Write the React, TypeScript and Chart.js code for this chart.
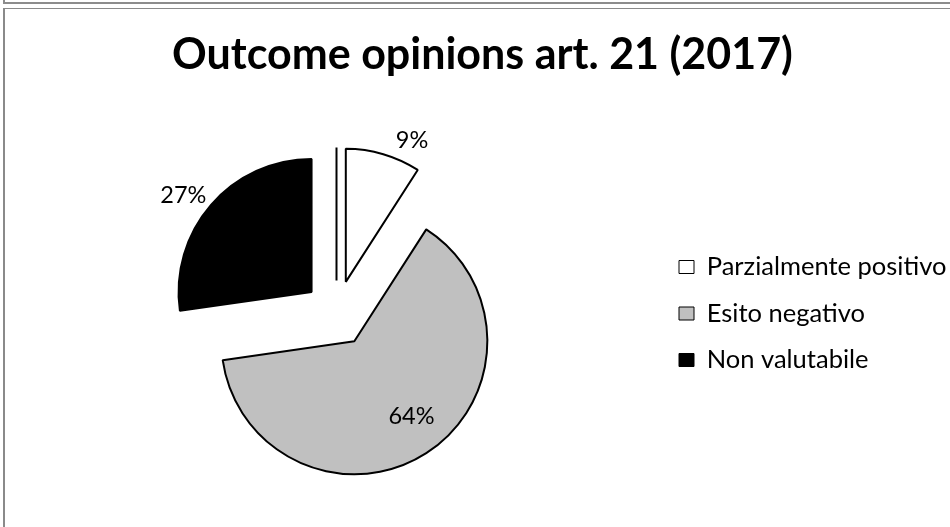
import React, { useEffect, useRef } from "react";
import { Chart, registerables } from "chart.js";

Chart.register(...registerables);

// ---- data ----
const TITLE = "Outcome opinions art. 21 (2017)";
const CATEGORIES = ["Positivo", "Parzialmente positivo", "Esito negativo", "Non valutabile"];
const COUNTS = [0, 1, 7, 3];
const SLICE_COLORS = ["#ffffff", "#ffffff", "#c0c0c0", "#000000"];

// ---- styling ----
const FONT = "Lato, 'Open Sans', sans-serif";
const TITLE_SIZE = 43;
const LABEL_SIZE = 23.5;
const LEGEND_SIZE = 25.5;
const RADIUS = 133;
const EXPLODE = 33;
const LABEL_PLACE = [
  { r: 0, shift: 0 },
  { r: 1.18, shift: 8.6 },
  { r: 0.707, shift: -4.7 },
  { r: 1.21, shift: -3.7 },
];
const CANVAS_W = 957;
const CANVAS_H = 545;
const LEGEND_PAD = 21;
const BOX_W = 15;
const BOX_H = 13;
const PLOT_LEFT = 10;
const PLOT_RIGHT = 653;
const LEGEND_MAX = 292;

const explodePlugin = {
  id: "explodeAndLabels",
  afterDatasetUpdate(chart: any, args: any) {
    const meta = chart.getDatasetMeta(args.index);
    for (const arc of meta.data as any[]) {
      const mid = (arc.startAngle + arc.endAngle) / 2;
      arc.x += Math.cos(mid) * EXPLODE;
      arc.y += Math.sin(mid) * EXPLODE;
    }
  },
  afterDatasetsDraw(chart: any) {
    const ctx = chart.ctx as CanvasRenderingContext2D;
    const meta = chart.getDatasetMeta(0);
    const values = chart.data.datasets[0].data as number[];
    const total = values.reduce((a, b) => a + b, 0);
    meta.data.forEach((arc: any, i: number) => {
      const v = values[i];
      if (v === 0) {
        ctx.save();
        ctx.strokeStyle = "#000";
        ctx.lineWidth = 2;
        ctx.beginPath();
        ctx.moveTo(arc.x, arc.y);
        ctx.lineTo(
          arc.x + Math.cos(arc.startAngle) * arc.outerRadius,
          arc.y + Math.sin(arc.startAngle) * arc.outerRadius
        );
        ctx.stroke();
        ctx.restore();
        return;
      }
      const place = LABEL_PLACE[i];
      const ang = (arc.startAngle + arc.endAngle) / 2 + (place.shift * Math.PI) / 180;
      const r = arc.outerRadius * place.r;
      const lx = arc.x + Math.cos(ang) * r;
      const ly = arc.y + Math.sin(ang) * r;
      ctx.save();
      ctx.font = `${LABEL_SIZE}px ${FONT}`;
      ctx.fillStyle = "#000";
      ctx.textAlign = "center";
      ctx.textBaseline = "alphabetic";
      ctx.fillText(Math.round((v / total) * 100) + "%", lx, ly + 0.358 * LABEL_SIZE);
      ctx.restore();
    });
  },
};

export default function App() {
  const ref = useRef<HTMLCanvasElement>(null);

  useEffect(() => {
    if (!ref.current) return;
    const m = document.createElement("canvas").getContext("2d")!;
    m.font = `${LEGEND_SIZE}px ${FONT}`;
    const maxText = Math.max(
      ...CATEGORIES.filter((_, i) => COUNTS[i] !== 0).map((t) => m.measureText(t).width)
    );
    const natural = LEGEND_PAD + BOX_W + LEGEND_SIZE / 2 + maxText + 10;
    const legendW = Math.min(natural, LEGEND_MAX);
    const padRight = CANVAS_W - PLOT_RIGHT - legendW;

    const baseGen =
      ((Chart as any).overrides?.pie?.plugins?.legend?.labels?.generateLabels) ||
      ((Chart as any).overrides?.doughnut?.plugins?.legend?.labels?.generateLabels);

    const chart = new Chart(ref.current, {
      type: "pie",
      data: {
        labels: CATEGORIES,
        datasets: [
          {
            data: COUNTS,
            backgroundColor: SLICE_COLORS,
            borderColor: "#000000",
            borderWidth: 2,
          },
        ],
      },
      options: {
        responsive: false,
        animation: false,
        events: [],
        radius: RADIUS,
        layout: { padding: { left: PLOT_LEFT, right: padRight, top: 0, bottom: 7.9 } },
        plugins: {
          tooltip: { enabled: false },
          title: {
            display: true,
            text: TITLE,
            color: "#000",
            font: { family: FONT, size: TITLE_SIZE, weight: "bold" },
            padding: { top: 20.3, bottom: 0 },
          },
          legend: {
            position: "right",
            fullSize: false,
            maxWidth: LEGEND_MAX,
            labels: {
              color: "#000",
              font: { family: FONT, size: LEGEND_SIZE },
              boxWidth: BOX_W,
              boxHeight: BOX_H,
              padding: LEGEND_PAD,
              generateLabels: (c: any) =>
                baseGen(c)
                  .filter((it: any) => COUNTS[it.index] !== 0)
                  .map((it: any) => ({ ...it, lineWidth: 1, strokeStyle: "#000" })),
            },
          },
        },
      } as any,
      plugins: [explodePlugin as any],
    });
    return () => chart.destroy();
  }, []);

  return (
    <div
      style={{
        position: "fixed",
        left: 0,
        top: 0,
        width: 950,
        height: 527,
        overflow: "hidden",
        background: "#fff",
      }}
    >
      <div
        style={{
          position: "absolute",
          left: 3,
          top: -20,
          width: 960,
          height: 22,
          borderLeft: "2px solid #8c8c8c",
          borderBottom: "2px solid #8c8c8c",
        }}
      />
      <div
        style={{
          position: "absolute",
          left: 3,
          top: 8,
          width: CANVAS_W,
          height: CANVAS_H,
          border: "1px solid #8a8a8a",
          borderLeftWidth: 2,
        }}
      >
        <canvas
          ref={ref}
          width={CANVAS_W}
          height={CANVAS_H}
          style={{ display: "block", width: CANVAS_W, height: CANVAS_H }}
        />
      </div>
    </div>
  );
}
